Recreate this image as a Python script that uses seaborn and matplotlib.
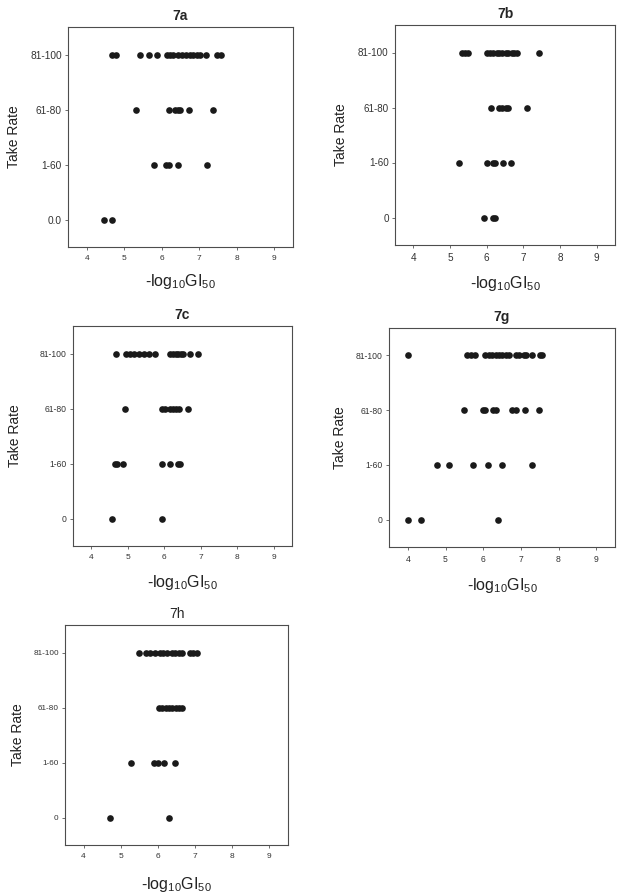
import matplotlib
matplotlib.use('Agg')
import matplotlib.pyplot as plt
import pandas as pd
import seaborn as sns

sns.set_style('white')
plt.rcParams['font.family'] = ['Liberation Sans', 'DejaVu Sans']
plt.rcParams['mathtext.default'] = 'regular'

rates = ['81-100', '61-80', '1-60', '0']

# -log10 GI50 values, one list per take-rate row
a_81 = [4.67, 4.77, 5.42, 5.67, 5.88, 6.13, 6.22, 6.31, 6.42, 6.53, 6.64, 6.74,
        6.84, 6.95, 7.02, 7.17, 7.48, 7.57]
a_61 = [5.31, 6.18, 6.35, 6.44, 6.49, 6.73, 7.36]
a_1 = [5.80, 6.10, 6.18, 6.44, 7.21]
a_0 = [4.46, 4.66]

b_81 = [5.34, 5.41, 5.48, 6.01, 6.09, 6.18, 6.27, 6.34, 6.43, 6.52, 6.59, 6.68,
        6.75, 6.82, 7.42]
b_61 = [6.13, 6.34, 6.43, 6.52, 6.59, 7.10]
b_1 = [5.25, 6.01, 6.16, 6.24, 6.44, 6.66]
b_0 = [5.94, 6.18, 6.24]

c_81 = [4.67, 4.95, 5.06, 5.18, 5.32, 5.45, 5.57, 5.76, 6.15, 6.24, 6.33, 6.38,
        6.47, 6.51, 6.70, 6.93]
c_61 = [4.93, 5.93, 6.01, 6.15, 6.24, 6.31, 6.40, 6.65]
c_1 = [4.65, 4.70, 4.88, 5.93, 6.16, 6.39, 6.44]
c_0 = [4.58, 5.93]

g_81 = [4.00, 5.58, 5.68, 5.77, 6.06, 6.15, 6.24, 6.33, 6.42, 6.51, 6.60, 6.68,
        6.87, 6.95, 7.08, 7.15, 7.30, 7.50, 7.56]
g_61 = [5.49, 5.99, 6.06, 6.27, 6.33, 6.77, 6.86, 7.12, 7.48]
g_1 = [4.78, 5.08, 5.73, 6.12, 6.49, 7.30]
g_0 = [4.00, 4.35, 6.39]

h_81 = [5.48, 5.69, 5.80, 5.92, 6.05, 6.14, 6.25, 6.37, 6.46, 6.57, 6.64, 6.86,
        6.95, 7.06]
h_61 = [6.03, 6.12, 6.21, 6.30, 6.39, 6.48, 6.57, 6.66]
h_1 = [5.27, 5.90, 5.99, 6.16, 6.47]
h_0 = [4.72, 6.30]

panels = [
    ('7a', [a_81, a_61, a_1, a_0], ['81-100', '61-80', '1-60', '0.0']),
    ('7b', [b_81, b_61, b_1, b_0], rates),
    ('7c', [c_81, c_61, c_1, c_0], rates),
    ('7g', [g_81, g_61, g_1, g_0], rates),
    ('7h', [h_81, h_61, h_1, h_0], rates),
]

# axes boxes in pixels: left, right, top, bottom
W, H = 624, 893
boxes = [(68, 293, 27, 247), (395, 615, 25, 245), (73, 292, 326, 546),
         (389, 615, 328, 547), (65, 288, 625, 845)]
ytick_size = [7.3, 7.1, 6.2, 6.2, 5.9]
xtick_size = [6.0, 7.2, 6.0, 6.2, 6.0]
xlab_y = [-0.159, -0.173, -0.168, -0.174, -0.18]
ylab_x = [-0.24, -0.245, -0.265, -0.217, -0.21]
bold = [True, True, True, True, False]

fig = plt.figure(figsize=(W / 100, H / 100), dpi=100)

for i, (name, rows, labels) in enumerate(panels):
    l, r, t, b = boxes[i]
    ax = fig.add_axes([l / W, 1 - b / H, (r - l) / W, (b - t) / H])
    df = pd.DataFrame({
        'gi50': sum(rows, []),
        'rate': sum([[rates[k]] * len(v) for k, v in enumerate(rows)], []),
    })
    sns.stripplot(data=df, x='gi50', y='rate', order=rates, orient='h',
                  jitter=False, color='#1a1a1a', size=4.8, linewidth=0, ax=ax)
    ax.set_xlim(3.5, 9.5)
    ax.set_ylim(3.5, -0.5)
    ax.set_xticks([4, 5, 6, 7, 8, 9])
    ax.set_yticks(range(4))
    ax.set_yticklabels(labels)
    ax.tick_params(axis='y', labelsize=ytick_size[i], length=2.5, width=0.6,
                   color='#555555', labelcolor='#333333', pad=2, left=True)
    ax.tick_params(axis='x', labelsize=xtick_size[i], length=2.5, width=0.6,
                   color='#555555', labelcolor='#333333', pad=3, bottom=True)
    for sp in ax.spines.values():
        sp.set_color('#4d4d4d')
        sp.set_linewidth(0.8)
    ax.set_title(name, fontsize=10, fontweight='bold' if bold[i] else 'normal',
                 pad=5)
    ax.set_xlabel(r'-log$_{10}$GI$_{50}$', fontsize=11.5, color='#222222')
    ax.set_ylabel('Take Rate', fontsize=10, color='#222222')
    ax.xaxis.set_label_coords(0.5, xlab_y[i])
    ax.xaxis.label.set_va('center')
    ax.yaxis.set_label_coords(ylab_x[i], 0.5)
    ax.yaxis.label.set_va('center')

fig.savefig('out.png', dpi=100)
